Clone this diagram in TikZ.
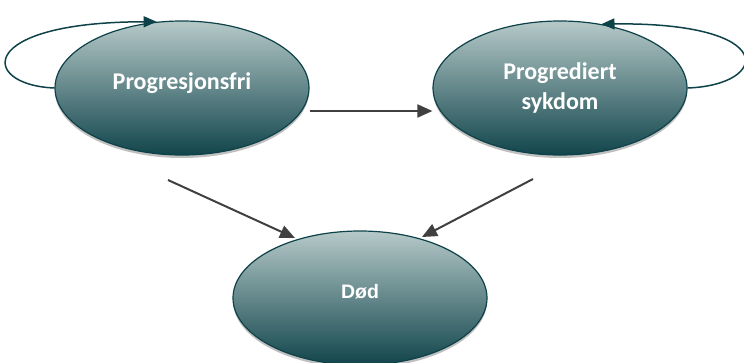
\documentclass[tikz,border=0pt]{standalone}
\usepackage{fontspec}
\setmainfont{Carlito}
\newfontfamily\arialfont{Liberation Sans}
\usetikzlibrary{shapes.geometric,arrows.meta,shadows}

\definecolor{statetop}{HTML}{B6C9C9}
\definecolor{statebot}{HTML}{11454B}
\definecolor{statedraw}{HTML}{0E4249}
\definecolor{arrgray}{HTML}{404040}

\begin{document}
\begin{tikzpicture}[x=1pt,y=-1pt]
\tikzstyle{every node}=[]
\tikzstyle{state}=[draw=statedraw, line width=1.2pt, ellipse, minimum width=254pt, minimum height=134pt,
  top color=statetop, bottom color=statebot, text=white, font=\bfseries\fontsize{24}{30}\selectfont, align=center,
  drop shadow={shadow xshift=0pt, shadow yshift=-3pt, opacity=0.25, fill=black}]
\tikzstyle{arr}=[-{Triangle[length=15pt,width=13pt]}, arrgray, line width=2pt]
\tikzstyle{loop}=[-{Triangle[length=13pt,width=11pt]}, statedraw, line width=1.5pt]

\useasboundingbox (0,0) rectangle (744,362);

\node[state] (P) at (182, 88) {\raisebox{14pt}{Progresjonsfri}};
\node[state] (S) at (560, 88) {Progrediert\\sykdom};
\node[state, font=\arialfont\bfseries\fontsize{19.5}{24}\selectfont] (D) at (360, 298) {\raisebox{13pt}{Død}};

\coordinate (pd-start) at (168, 180);
\coordinate (pd-end) at (295, 238);
\coordinate (sd-start) at (533, 179);
\coordinate (sd-end) at (422, 237);

\draw[arr] ([yshift=-23pt]P.east) -- ([yshift=-23pt]S.west);
\draw[arr] (pd-start) -- (pd-end);
\draw[arr] (sd-start) -- (sd-end);

\draw[loop] (P.180) .. controls (-20, 85) and (-25, 22) .. (P.111);
\draw[loop] (S.0) .. controls (770, 85) and (780, 22) .. (S.57);

\end{tikzpicture}
\end{document}
